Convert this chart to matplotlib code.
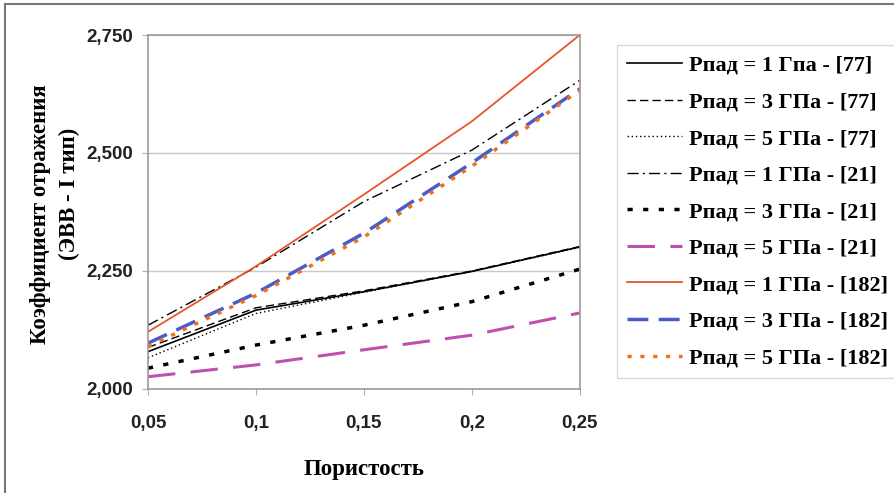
import numpy as np
import matplotlib.pyplot as plt
from matplotlib.lines import Line2D

# Porosity values
porosity = [0.05, 0.1, 0.15, 0.2, 0.25]

# Reflection coefficient series
p1_77 = [2.079, 2.167, 2.206, 2.249, 2.301]
p3_77 = [2.088, 2.172, 2.208, 2.250, 2.302]
p5_77 = [2.066, 2.160, 2.205, 2.249, 2.300]
p1_21 = [2.135, 2.258, 2.397, 2.506, 2.654]
p3_21 = [2.044, 2.093, 2.135, 2.185, 2.254]
p5_21 = [2.026, 2.051, 2.083, 2.114, 2.161]
p1_182 = [2.121, 2.260, 2.412, 2.567, 2.750]
p3_182 = [2.097, 2.203, 2.330, 2.479, 2.636]
p5_182 = [2.090, 2.198, 2.322, 2.472, 2.633]

labels = ["Рпад = 1 Гпа - [77]", "Рпад = 3 ГПа - [77]", "Рпад = 5 ГПа - [77]",
          "Рпад = 1 ГПа - [21]", "Рпад = 3 ГПа - [21]", "Рпад = 5 ГПа - [21]",
          "Рпад = 1 ГПа - [182]", "Рпад = 3 ГПа - [182]", "Рпад = 5 ГПа - [182]"]
series = [p1_77, p3_77, p5_77, p1_21, p3_21, p5_21, p1_182, p3_182, p5_182]

styles = [
    dict(color='black', lw=1.2, ls='-'),
    dict(color='black', lw=1.0, ls=(0, (6, 3))),
    dict(color='black', lw=1.0, ls=(0, (1, 2))),
    dict(color='black', lw=1.0, ls=(0, (8, 3, 1.5, 3))),
    dict(color='black', lw=2.5, ls=(0, (1.5, 3))),
    dict(color='#c050b0', lw=2.2, ls=(0, (9, 5))),
    dict(color='#e8552a', lw=1.3, ls='-'),
    dict(color='#4a5cc8', lw=2.5, ls=(0, (6, 3))),
    dict(color='#f07020', lw=2.5, ls=(0, (1.2, 2.5))),
]

fig = plt.figure(figsize=(8.94, 4.93), dpi=100)
ax = fig.add_axes([0.1655, 0.211, 0.483, 0.718])

for y, lab, st in zip(series, labels, styles):
    ax.plot(porosity, y, label=lab, **st)

ax.set_xlim(0.05, 0.25)
ax.set_ylim(2.0, 2.75)
ax.set_xticks(porosity)
ax.set_xticklabels(['0,05', '0,1', '0,15', '0,2', '0,25'])
yt = [2.0, 2.25, 2.5, 2.75]
ax.set_yticks(yt)
ax.set_yticklabels([('%.3f' % v).replace('.', ',') for v in yt])
ax.yaxis.grid(True, color='#c8c8c8', lw=1)
for sp in ax.spines.values():
    sp.set_color('#a09898')
    sp.set_linewidth(1.2)
ax.tick_params(direction='out', length=4, color='#b0b0b0')
ax.tick_params(axis='y', pad=7)
ax.tick_params(axis='x', pad=15)
for t in ax.get_xticklabels() + ax.get_yticklabels():
    t.set_fontfamily('Liberation Sans')
    t.set_fontweight('bold')
    t.set_fontsize(13.5)
    t.set_color('#222222')

ax.set_xlabel('Пористость', family='Liberation Serif', fontweight='bold',
              fontsize=16.5, labelpad=19)
fig.text(0.045, 0.566, 'Коэффициент отражения', rotation=90, ha='center', va='center',
         family='Liberation Serif', fontweight='bold', fontsize=16.5)
fig.text(0.078, 0.606, '(ЭВВ - I тип)', rotation=90, ha='center', va='center',
         family='Liberation Serif', fontweight='bold', fontsize=16.5)

leg = fig.legend(loc='upper left', bbox_to_anchor=(0.690, 0.908), handlelength=2.5,
                 prop={'family': 'Liberation Serif', 'weight': 'bold', 'size': 16},
                 frameon=True, fancybox=False, labelspacing=0.72, borderpad=0.45,
                 handletextpad=0.3, borderaxespad=0)
leg.get_frame().set_edgecolor('#d0d0d0')
leg.get_frame().set_linewidth(1.0)

# outer frame of the picture
fig.add_artist(Line2D([0.006, 0.006], [0, 0.992], color='#777777', lw=1.5,
                      transform=fig.transFigure))
fig.add_artist(Line2D([0.006, 1.0], [0.992, 0.992], color='#777777', lw=1.5,
                      transform=fig.transFigure))

fig.savefig('out.png', dpi=100)
